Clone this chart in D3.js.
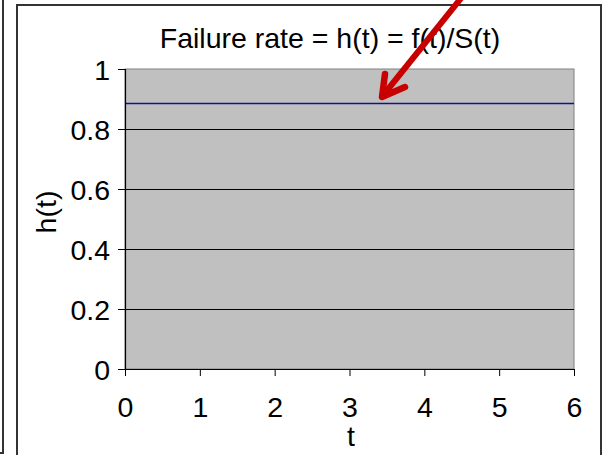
<!DOCTYPE html>
<html>
<head>
<meta charset="utf-8">
<script src="https://cdn.jsdelivr.net/npm/d3@7/dist/d3.min.js"></script>
<style>
  html, body { margin: 0; padding: 0; background: #fff; }
  svg { display: block; }
  text { font-family: "Liberation Sans", Arial, sans-serif; fill: #000; }
</style>
</head>
<body>
<svg id="chart" width="606" height="455"></svg>
<script>
// Hazard function h(t): constant failure rate across the time window
const tValues = [0, 6];
const hValues = [0.887, 0.887];
const xTicks = [0, 1, 2, 3, 4, 5, 6];
const yTicks = [0, 0.2, 0.4, 0.6, 0.8, 1];
const yTickLabels = ["0", "0.2", "0.4", "0.6", "0.8", "1"];
const titleText = "Failure rate = h(t) = f(t)/S(t)";
const xLabel = "t";
const yLabel = "h(t)";

const svg = d3.select("#chart");
const plot = { left: 125, top: 69, right: 574, bottom: 369 };
const fontSize = "28.5px";

// neighbouring frame edge and this chart's frame
svg.append("path")
  .attr("d", "M3,0 V453 H0")
  .attr("fill", "none").attr("stroke", "#333").attr("stroke-width", 2);
svg.append("path")
  .attr("d", "M17,460 V5 H601 V460")
  .attr("fill", "none").attr("stroke", "#333").attr("stroke-width", 2);

const x = d3.scaleLinear().domain([0, 6]).range([plot.left, plot.right]);
const y = d3.scaleLinear().domain([0, 1]).range([plot.bottom, plot.top]);

// plot area background with grey border
svg.append("rect")
  .attr("x", plot.left).attr("y", plot.top)
  .attr("width", plot.right - plot.left).attr("height", plot.bottom - plot.top)
  .attr("fill", "#c0c0c0").attr("stroke", "#808080").attr("stroke-width", 1);

// horizontal gridlines
svg.append("g").selectAll("line")
  .data(yTicks.filter(d => d > 0 && d < 1))
  .join("line")
  .attr("x1", plot.left).attr("x2", plot.right)
  .attr("y1", d => Math.round(y(d)) + 0.5).attr("y2", d => Math.round(y(d)) + 0.5)
  .attr("stroke", "#000").attr("stroke-width", 1);

// hazard line
const line = d3.line().x((d, i) => x(tValues[i])).y(d => Math.round(y(d)) + 0.5);
svg.append("path")
  .datum(hValues)
  .attr("d", line)
  .attr("fill", "none").attr("stroke", "#101090").attr("stroke-width", 1.3);

// axes
const yAxis = d3.axisLeft(y).tickValues(yTicks)
  .tickFormat((d, i) => yTickLabels[i]).tickSize(7).tickPadding(8);
const gy = svg.append("g").attr("transform", `translate(${plot.left},0)`).call(yAxis);
gy.select(".domain").attr("stroke", "#000").attr("stroke-width", 1.2);
gy.selectAll(".tick line").attr("stroke", "#000");
gy.selectAll("text").style("font-size", fontSize).attr("font-family", null)
  .attr("dy", "0.36em");

const xAxis = d3.axisBottom(x).tickValues(xTicks).tickFormat(d3.format("d"))
  .tickSize(7).tickSizeOuter(0).tickPadding(21);
const gx = svg.append("g").attr("transform", `translate(0,${plot.bottom})`).call(xAxis);
gx.select(".domain").attr("stroke", "#000").attr("stroke-width", 1.2);
gx.selectAll(".tick line").attr("stroke", "#000");
gx.selectAll("text").style("font-size", fontSize).attr("font-family", null);

// titles
svg.append("text").attr("x", 330).attr("y", 48)
  .attr("text-anchor", "middle").style("font-size", fontSize).text(titleText);
svg.append("text").attr("x", 351).attr("y", 446)
  .attr("text-anchor", "middle").style("font-size", fontSize).text(xLabel);
svg.append("text")
  .attr("transform", "translate(56,212) rotate(-90)")
  .attr("text-anchor", "middle").style("font-size", fontSize).text(yLabel);

// red annotation arrow pointing at the hazard line
const tip = [382, 97];
const arrow = svg.append("g").attr("stroke", "#c80000").attr("fill", "none")
  .attr("stroke-linecap", "round").attr("stroke-linejoin", "round");
arrow.append("line")
  .attr("x1", 470).attr("y1", -13).attr("x2", tip[0] + 3).attr("y2", tip[1] - 4)
  .attr("stroke-width", 6);
arrow.append("path")
  .attr("d", `M385,74 L${tip[0]},${tip[1]} L405,87`)
  .attr("stroke-width", 6.5);
</script>
</body>
</html>
